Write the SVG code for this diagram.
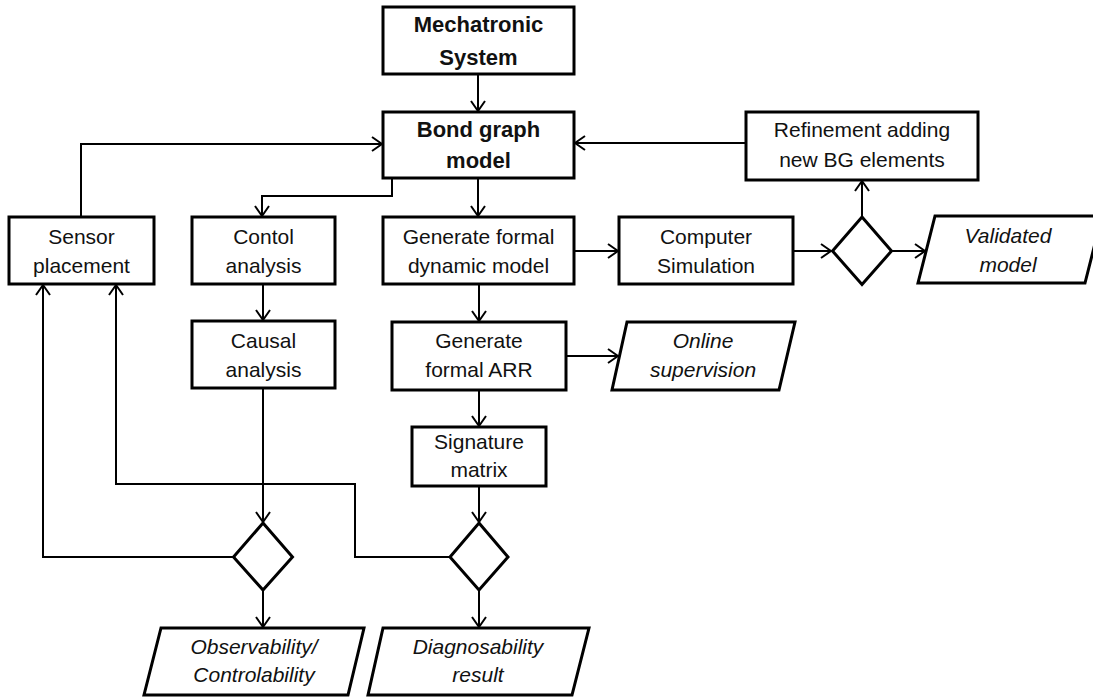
<svg xmlns="http://www.w3.org/2000/svg" width="1093" height="697" viewBox="0 0 1093 697">
<defs>
<marker id="arr" viewBox="0 0 12 16" refX="11" refY="8" markerWidth="12" markerHeight="16" markerUnits="userSpaceOnUse" orient="auto">
<path d="M1,1 L11,8 L1,15" fill="none" stroke="#000" stroke-width="2"/>
</marker>
<style>
.box{fill:#fff;stroke:#000;stroke-width:3}
.t{font-family:"Liberation Sans",Arial,sans-serif;font-size:21px;fill:#111;text-anchor:middle}
.b{font-weight:bold;font-size:22px}
.i{font-style:italic}
.c{fill:none;stroke:#000;stroke-width:2}
.c path,.c line,.c polyline{marker-end:url(#arr)}
</style>
</defs>
<rect width="1093" height="697" fill="#fff"/>
<g id="connectors" class="c">
<line x1="478" y1="74" x2="478" y2="111"/>
<polyline points="81,217 81,144 382,144"/>
<line x1="746" y1="143" x2="575" y2="143"/>
<polyline points="392,178 392,196 262,196 262,216"/>
<line x1="478" y1="178" x2="478" y2="216"/>
<line x1="263" y1="284" x2="263" y2="320"/>
<line x1="574" y1="251" x2="618" y2="251"/>
<line x1="793" y1="251" x2="831" y2="251"/>
<line x1="891" y1="251" x2="925" y2="251"/>
<line x1="862" y1="217" x2="862" y2="181"/>
<line x1="479" y1="284" x2="479" y2="321"/>
<line x1="566" y1="356" x2="618" y2="356"/>
<line x1="479" y1="390" x2="479" y2="426"/>
<line x1="263" y1="388" x2="263" y2="522"/>
<line x1="479" y1="486" x2="479" y2="522"/>
<polyline points="234,557 43,557 43,285"/>
<polyline points="450,557 355,557 355,484 116,484 116,285"/>
<line x1="263" y1="590" x2="263" y2="627"/>
<line x1="479" y1="590" x2="479" y2="627"/>
</g>
<g id="mechatronic">
<rect class="box" x="383" y="7" width="191" height="67"/>
<text class="t b" x="478.5" y="32">Mechatronic</text>
<text class="t b" x="478.5" y="65">System</text>
</g>
<g id="bondgraph">
<rect class="box" x="383" y="112" width="191" height="66"/>
<text class="t b" x="478.5" y="137">Bond graph</text>
<text class="t b" x="478.5" y="168">model</text>
</g>
<g id="refinement">
<rect class="box" x="746" y="112" width="232" height="68"/>
<text class="t" x="862" y="137">Refinement adding</text>
<text class="t" x="862" y="167">new BG elements</text>
</g>
<g id="sensor">
<rect class="box" x="9" y="217" width="145" height="67"/>
<text class="t" x="81.5" y="244">Sensor</text>
<text class="t" x="81.5" y="273">placement</text>
</g>
<g id="control">
<rect class="box" x="192" y="217" width="143" height="67"/>
<text class="t" x="263.5" y="244">Contol</text>
<text class="t" x="263.5" y="273">analysis</text>
</g>
<g id="dynamic">
<rect class="box" x="383" y="217" width="191" height="67"/>
<text class="t" x="478.5" y="244">Generate formal</text>
<text class="t" x="478.5" y="273">dynamic model</text>
</g>
<g id="simulation">
<rect class="box" x="619" y="217" width="174" height="67"/>
<text class="t" x="706" y="244">Computer</text>
<text class="t" x="706" y="273">Simulation</text>
</g>
<g id="decision3">
<polygon class="box" points="862,217 891.5,251 862,284.5 832.5,251"/>
</g>
<g id="validated">
<polygon class="box" points="935,216 1102,216 1085,283 918,283"/>
<text class="t i" x="1008" y="243">Validated</text>
<text class="t i" x="1008" y="272">model</text>
</g>
<g id="causal">
<rect class="box" x="192" y="321" width="143" height="67"/>
<text class="t" x="263.5" y="348">Causal</text>
<text class="t" x="263.5" y="377">analysis</text>
</g>
<g id="arr-gen">
<rect class="box" x="392" y="322" width="174" height="68"/>
<text class="t" x="479" y="348">Generate</text>
<text class="t" x="479" y="377">formal ARR</text>
</g>
<g id="online">
<polygon class="box" points="627,322 795,322 779,390 612,390"/>
<text class="t i" x="703" y="348">Online</text>
<text class="t i" x="703" y="377">supervision</text>
</g>
<g id="signature">
<rect class="box" x="412" y="427" width="134" height="59"/>
<text class="t" x="479" y="449">Signature</text>
<text class="t" x="479" y="477">matrix</text>
</g>
<g id="decision1">
<polygon class="box" points="263,523 292.5,557 263,590 233.5,557"/>
</g>
<g id="decision2">
<polygon class="box" points="479,523 508,557 479,590 450,557"/>
</g>
<g id="observability">
<polygon class="box" points="161,628 364,628 348,695 144,695"/>
<text class="t i" x="254" y="654">Observability/</text>
<text class="t i" x="254" y="682">Controlability</text>
</g>
<g id="diagnosability">
<polygon class="box" points="383,628 589,628 572,695 368,695"/>
<text class="t i" x="478" y="654">Diagnosability</text>
<text class="t i" x="478" y="682">result</text>
</g>
</svg>
